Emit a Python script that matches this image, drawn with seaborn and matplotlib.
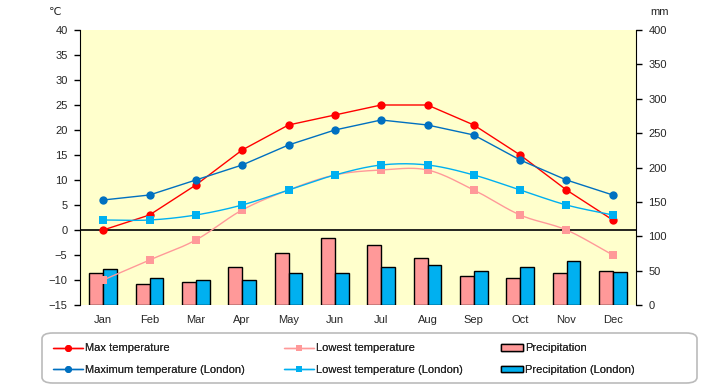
"""Climate chart: temperatures (lines) and precipitation (bars) vs London."""
import matplotlib.pyplot as plt
import numpy as np
import pandas as pd
import seaborn as sns
from matplotlib.lines import Line2D
from matplotlib.patches import FancyBboxPatch, Patch

months = ["Jan", "Feb", "Mar", "Apr", "May", "Jun",
          "Jul", "Aug", "Sep", "Oct", "Nov", "Dec"]
max_temp = [0, 3, 9, 16, 21, 23, 25, 25, 21, 15, 8, 2]
low_temp = [-10, -6, -2, 4, 8, 11, 12, 12, 8, 3, 0, -5]
max_temp_london = [6, 7, 10, 13, 17, 20, 22, 21, 19, 14, 10, 7]
low_temp_london = [2, 2, 3, 5, 8, 11, 13, 13, 11, 8, 5, 3]
precip = [46, 30, 33, 56, 75, 97, 87, 68, 42, 40, 46, 49]
precip_london = [52, 39, 36, 37, 46, 46, 55, 58, 49, 56, 64, 48]

RED = "#FF0000"
PINK = "#FF9999"
DARK_BLUE = "#0070C0"
LIGHT_BLUE = "#00B0F0"
BG = "#FFFFCC"

W, H = 720, 385


def smooth(x, y, n=24):
    # Catmull-Rom curve through the points, like a "smoothed line" in a spreadsheet
    p = np.column_stack([x, y]).astype(float)
    p = np.vstack([2 * p[0] - p[1], p, 2 * p[-1] - p[-2]])
    t = np.linspace(0, 1, n, endpoint=False)[:, None]
    segs = []
    for i in range(1, len(p) - 2):
        p0, p1, p2, p3 = p[i - 1:i + 3]
        segs.append(0.5 * (2 * p1 + (p2 - p0) * t
                           + (2 * p0 - 5 * p1 + 4 * p2 - p3) * t ** 2
                           + (3 * p1 - p0 - 3 * p2 + p3) * t ** 3))
    segs.append(p[-2][None])
    s = np.vstack(segs)
    return s[:, 0], s[:, 1]


sns.set_style("white")
plt.rcParams["font.family"] = ["Liberation Sans", "DejaVu Sans"]
plt.rcParams["font.size"] = 8

fig = plt.figure(figsize=(W / 100, H / 100), dpi=100)
ax = fig.add_axes([80 / W, 1 - 305 / H, 556 / W, 275 / H])
ax2 = ax.twinx()

# precipitation bars on the right axis
bars = pd.DataFrame({
    "month": months * 2,
    "series": ["Precipitation"] * 12 + ["Precipitation (London)"] * 12,
    "mm": precip + precip_london,
})
sns.barplot(data=bars, x="month", y="mm", hue="series", order=months,
            palette=[PINK, LIGHT_BLUE], saturation=1, width=0.6,
            edgecolor="black", linewidth=1, ax=ax2, legend=False)
ax2.set_ylim(0, 400)
ax2.set_yticks(range(0, 401, 50))
ax2.set_ylabel("")
ax2.set_xlabel("")
ax2.patch.set_visible(True)
ax2.set_facecolor(BG)

# temperature lines on the left axis, drawn above the bars
ax.set_zorder(ax2.get_zorder() + 1)
ax.patch.set_visible(False)
xs = np.arange(len(months))

ax.axhline(0, color="black", lw=1.2, zorder=1)
sns.lineplot(x=xs, y=max_temp, color=RED, marker="o", markersize=6,
             markeredgewidth=0, lw=1, ax=ax)
sx, sy = smooth(xs, low_temp)
sns.lineplot(x=sx, y=sy, color=PINK, lw=1, sort=False, ax=ax)
sns.scatterplot(x=xs, y=low_temp, color=PINK, marker="s", s=38,
                linewidth=0, ax=ax, zorder=3)
sns.lineplot(x=xs, y=max_temp_london, color=DARK_BLUE, marker="o",
             markersize=6, markeredgewidth=0, lw=1, ax=ax)
sx, sy = smooth(xs, low_temp_london)
sns.lineplot(x=sx, y=sy, color=LIGHT_BLUE, lw=1, sort=False, ax=ax)
sns.scatterplot(x=xs, y=low_temp_london, color=LIGHT_BLUE, marker="s", s=38,
                linewidth=0, ax=ax, zorder=4)

ax.set_xlim(-0.5, 11.5)
ax.set_ylim(-15, 40)
ax.set_yticks(range(-15, 41, 5))
ax.set_xticks(xs)
ax.set_xticklabels(months)
ax.yaxis.tick_left()
ax2.yaxis.tick_right()

for a in (ax, ax2):
    for side in ("top", "bottom"):
        a.spines[side].set_visible(False)
    a.spines["left"].set_visible(a is ax)
    a.spines["right"].set_visible(a is ax2)
    a.spines["left"].set_color("black")
    a.spines["right"].set_color("black")
    a.tick_params(axis="y", direction="out", length=4, width=1,
                  color="black", labelsize=8, pad=5)
    a.tick_params(axis="x", length=0, labelsize=8, pad=7)
ax2.tick_params(axis="x", labelbottom=False)

fig.text(49 / W, 1 - 12 / H, "℃", fontsize=8, ha="left", va="center")
fig.text(650 / W, 1 - 12 / H, "mm", fontsize=8, ha="left", va="center")

# legend: a rounded box with three columns placed inside it
box = FancyBboxPatch((42 / W, 1 - 383 / H), 655 / W, 50 / H,
                     boxstyle="round,pad=0,rounding_size=0.015",
                     transform=fig.transFigure, facecolor="white",
                     edgecolor="#BBBBBB", lw=1.2)
fig.patches.append(box)


def line_handle(color, marker):
    return Line2D([], [], color=color, marker=marker, markersize=5,
                  markeredgewidth=0, lw=1)


columns = [
    (45, 2.7, [line_handle(RED, "o"), line_handle(DARK_BLUE, "o")],
     ["Max temperature", "Maximum temperature (London)"]),
    (276, 2.7, [line_handle(PINK, "s"), line_handle(LIGHT_BLUE, "s")],
     ["Lowest temperature", "Lowest temperature (London)"]),
    (493, 2.0, [Patch(facecolor=PINK, edgecolor="black", lw=1),
                Patch(facecolor=LIGHT_BLUE, edgecolor="black", lw=1)],
     ["Precipitation", "Precipitation (London)"]),
]
for x0, hl, handles, labels in columns:
    leg = fig.legend(handles, labels, loc="center left",
                     bbox_to_anchor=(x0 / W, 1 - 359 / H), frameon=False,
                     fontsize=8, handlelength=hl, handleheight=0.55,
                     handletextpad=0.2, labelspacing=1.05, borderpad=0.2)
    fig.add_artist(leg)

fig.savefig("out.png", dpi=100)
